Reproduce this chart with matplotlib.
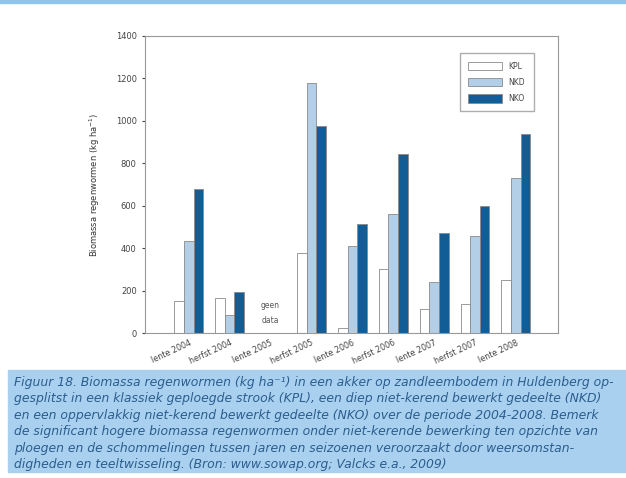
import numpy as np
import matplotlib.pyplot as plt
from matplotlib.patches import Rectangle

# Regenwormen biomassa per seizoen (kg/ha), per bewerking
seizoenen = ["lente 2004", "herfst 2004", "lente 2005", "herfst 2005", "lente 2006",
             "herfst 2006", "lente 2007", "herfst 2007", "lente 2008"]
kpl = [150, 165, np.nan, 375, 25, 300, 115, 135, 250]
nkd = [435, 85, np.nan, 1180, 410, 560, 240, 455, 730]
nko = [680, 195, np.nan, 975, 515, 845, 470, 600, 940]
reeksen = ["KPL", "NKD", "NKO"]
kleuren = ["#ffffff", "#b3cfe8", "#135d96"]

bijschrift = [
    "Figuur 18. Biomassa regenwormen (kg ha\u207b\u00b9) in een akker op zandleembodem in Huldenberg op-",
    "gesplitst in een klassiek geploegde strook (KPL), een diep niet-kerend bewerkt gedeelte (NKD)",
    "en een oppervlakkig niet-kerend bewerkt gedeelte (NKO) over de periode 2004-2008. Bemerk",
    "de significant hogere biomassa regenwormen onder niet-kerende bewerking ten opzichte van",
    "ploegen en de schommelingen tussen jaren en seizoenen veroorzaakt door weersomstan-",
    "digheden en teeltwisseling. (Bron: www.sowap.org; Valcks e.a., 2009)",
]

fig = plt.figure(figsize=(6.26, 4.78), dpi=100)
fig.patch.set_facecolor("white")

# blauwe rand bovenaan en kader voor het bijschrift
fig.patches.append(Rectangle((0, 0.994), 1, 0.006, transform=fig.transFigure,
                             color="#8fc5ea", zorder=0))
fig.patches.append(Rectangle((0.012, 0.012), 0.988, 0.213, transform=fig.transFigure,
                             color="#a9d1ef", zorder=0))

ax = fig.add_axes([0.2316, 0.3033, 0.6598, 0.6214])
x = np.arange(len(seizoenen))
w = 0.235
for i, (naam, vals, kleur) in enumerate(zip(reeksen, [kpl, nkd, nko], kleuren)):
    ax.bar(x + (i - 1) * w, vals, w, color=kleur, edgecolor="#8a8a8a",
           linewidth=0.6, label=naam)

ax.text(x[2], 95, "geen\ndata", ha="center", va="center", fontsize=5.5,
        color="#555555", linespacing=1.8)

ax.set_xlim(-1.07, 9.03)
ax.set_ylim(0, 1400)
ax.set_yticks(range(0, 1401, 200))
ax.set_xticks(x)
ax.set_xticklabels(seizoenen, rotation=25, ha="right", rotation_mode="anchor",
                   fontsize=5.8, color="#444444")
ax.tick_params(axis="y", labelsize=6, colors="#444444", length=2.5)
ax.tick_params(axis="x", length=0, pad=4)
ax.set_ylabel("Biomassa regenwormen (kg ha$^{-1}$)", fontsize=6, color="#333333",
              labelpad=10)
for s in ax.spines.values():
    s.set_color("#999999")
    s.set_linewidth(0.8)

leg = ax.legend(loc="upper right", bbox_to_anchor=(0.95, 0.955), fontsize=5.5,
                frameon=True, fancybox=False, edgecolor="#999999",
                handlelength=4.5, handleheight=1.3, borderpad=1.1, labelspacing=0.95)
for t in leg.get_texts():
    t.set_color("#444444")

y0 = 0.2
for regel in bijschrift:
    fig.text(0.022, y0, regel, fontsize=8.9, style="italic", color="#2c5d8e",
             va="center", ha="left")
    y0 -= 0.0345

fig.savefig("out.png", dpi=100)
